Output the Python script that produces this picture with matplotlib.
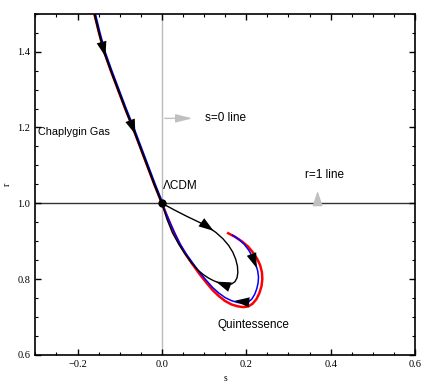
import numpy as np
import matplotlib
matplotlib.use("Agg")
import matplotlib.pyplot as plt
from matplotlib.patches import FancyArrowPatch
from matplotlib.ticker import MultipleLocator

# branch coming down from the Chaplygin gas side into LCDM
upper_s = [-0.160, -0.149, -0.137, -0.121, -0.104, -0.087, -0.069, -0.052, -0.035, -0.018, 0.0]
upper_r = [1.500, 1.450, 1.400, 1.350, 1.300, 1.250, 1.200, 1.150, 1.100, 1.050, 1.0]

# lower branches (quintessence side)
red_s = [0.0, 0.01, 0.02, 0.03, 0.043, 0.056, 0.07, 0.09, 0.105, 0.12, 0.135, 0.15, 0.165,
         0.18, 0.193, 0.205, 0.215, 0.224, 0.231, 0.236, 0.238, 0.237, 0.233, 0.226, 0.216,
         0.204, 0.19, 0.174, 0.157]
red_r = [1.0, 0.972, 0.945, 0.920, 0.890, 0.866, 0.843, 0.812, 0.791, 0.771, 0.755, 0.742,
         0.733, 0.728, 0.726, 0.728, 0.735, 0.747, 0.763, 0.781, 0.800, 0.818, 0.836, 0.853,
         0.870, 0.886, 0.899, 0.911, 0.921]
blue_s = [0.0, 0.01, 0.02, 0.03, 0.043, 0.056, 0.07, 0.09, 0.105, 0.12, 0.135, 0.15, 0.165,
          0.18, 0.193, 0.204, 0.213, 0.220, 0.225, 0.228, 0.229, 0.227, 0.222, 0.215, 0.206,
          0.195, 0.182, 0.167]
blue_r = [1.0, 0.973, 0.947, 0.922, 0.893, 0.869, 0.847, 0.817, 0.797, 0.778, 0.763, 0.751,
          0.743, 0.738, 0.736, 0.739, 0.747, 0.760, 0.775, 0.790, 0.805, 0.822, 0.840, 0.858,
          0.876, 0.892, 0.905, 0.916]
loop_s = [0.0, 0.03, 0.06, 0.09, 0.11, 0.128, 0.145, 0.158, 0.168, 0.175, 0.179, 0.180, 0.178,
          0.173, 0.165, 0.155, 0.145, 0.135, 0.122, 0.11, 0.098, 0.085, 0.07, 0.055, 0.04,
          0.025, 0.012, 0.0]
loop_r = [1.0, 0.982, 0.965, 0.949, 0.937, 0.923, 0.906, 0.889, 0.871, 0.852, 0.834, 0.817,
          0.803, 0.793, 0.787, 0.785, 0.786, 0.790, 0.796, 0.803, 0.812, 0.824, 0.843, 0.866,
          0.892, 0.922, 0.958, 1.0]

plt.rcParams['font.family'] = ['Liberation Serif', 'DejaVu Serif']

fig = plt.figure(figsize=(4.36, 3.82), dpi=100)
ax = fig.add_axes([0.081, 0.071, 0.871, 0.893])


def head(xs, ys, i, j, ax, t=1.0):
    # arrow head on a curve, pointing from point i towards point j (tip at fraction t)
    x0, y0 = xs[i], ys[i]
    x1 = x0 + t * (xs[j] - x0)
    y1 = y0 + t * (ys[j] - y0)
    p = FancyArrowPatch((x0, y0), (x1, y1),
                        arrowstyle='-|>,head_length=0.9,head_width=0.3',
                        mutation_scale=12, color='black', lw=0, zorder=6)
    ax.add_patch(p)


ax.axvline(0, color='#bbbbbb', lw=1, zorder=1)
ax.axhline(1, color='#333333', lw=1, zorder=1)

ax.plot(red_s, red_r, color='red', lw=1.8, zorder=3)
ax.plot(blue_s, blue_r, color='blue', lw=1.1, zorder=4)
ax.plot([s - 0.001 for s in upper_s], upper_r, color='red', lw=1.3, zorder=3)
ax.plot([s + 0.002 for s in upper_s], upper_r, color='blue', lw=1.3, zorder=4)
ax.plot(upper_s, upper_r, color='black', lw=1.4, zorder=5)
ax.plot(loop_s, loop_r, color='black', lw=1.0, zorder=5)
ax.plot([0], [1], 'o', color='black', ms=5, zorder=7)

head(upper_s, upper_r, 1, 2, ax, 1.4)
head(upper_s, upper_r, 6, 7, ax, 0.5)
head(loop_s, loop_r, 4, 5, ax)
head(loop_s, loop_r, 16, 18, ax)
head(blue_s, blue_r, 23, 21, ax)
head(blue_s, blue_r, 15, 12, ax)

sans = ['Liberation Sans', 'DejaVu Sans']
ax.annotate('', xy=(0.079, 1.224), xytext=(0.0, 1.224),
            arrowprops=dict(arrowstyle='-|>,head_length=1.0,head_width=0.25',
                            color='#c0c0c0', lw=1, mutation_scale=10))
ax.text(0.102, 1.224, 's=0 line', family=sans, fontsize=8.5, va='center')
ax.annotate('', xy=(0.369, 1.040), xytext=(0.369, 1.0),
            arrowprops=dict(arrowstyle='-|>,head_length=0.9,head_width=0.3',
                            color='#c0c0c0', lw=1, mutation_scale=10))
ax.text(0.340, 1.074, 'r=1 line', family=sans, fontsize=8.5, va='center')
ax.text(-0.293, 1.187, 'Chaplygin Gas', family=sans, fontsize=7.8, va='center')
ax.text(0.002, 1.045, '\u039bCDM', family=sans, fontsize=8.5, va='center')
ax.text(0.131, 0.679, 'Quintessence', family=sans, fontsize=8.5, va='center')

ax.set_xlim(-0.3, 0.6)
ax.set_ylim(0.6, 1.5)
ax.xaxis.set_major_locator(MultipleLocator(0.2))
ax.xaxis.set_minor_locator(MultipleLocator(0.05))
ax.yaxis.set_major_locator(MultipleLocator(0.2))
ax.yaxis.set_minor_locator(MultipleLocator(0.05))
ax.tick_params(which='both', direction='in', top=True, right=True, labelsize=7.5)
ax.tick_params(which='major', length=4, width=1)
ax.tick_params(which='minor', length=2.5, width=0.8)
for sp in ax.spines.values():
    sp.set_linewidth(1.2)
ax.set_xlabel('s', fontsize=7, labelpad=4)
ax.set_ylabel('r', fontsize=7, labelpad=4)

fig.savefig('out.png', dpi=100)
